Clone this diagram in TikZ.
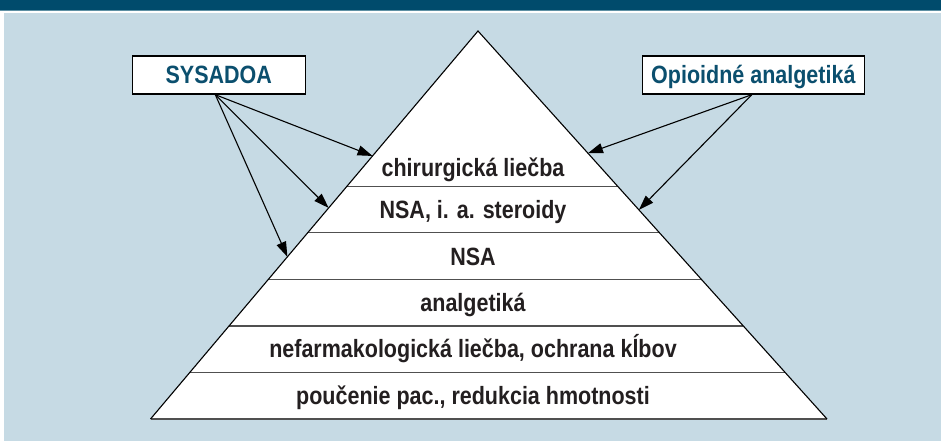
\documentclass[tikz,border=0pt]{standalone}
\usepackage{fontspec}
\setmainfont[FakeStretch=0.86]{Liberation Sans}
\usetikzlibrary{arrows.meta,calc}
\definecolor{bgblue}{HTML}{C6DAE4}
\definecolor{headteal}{HTML}{004B6C}
\definecolor{midteal}{HTML}{5E8FA3}
\definecolor{labtext}{HTML}{0B4F6E}
\definecolor{divgray}{HTML}{505050}
\definecolor{txt}{HTML}{231F20}
\begin{document}
\begin{tikzpicture}[x=1pt,y=-1pt,
  lbl/.style={draw=black,line width=1.4pt,fill=white,minimum height=38pt,inner sep=0pt,
    text height=18pt,text depth=0pt,text=labtext,font=\fontsize{25}{25}\selectfont\bfseries},
  bandtext/.style={text=txt,anchor=base,inner sep=0pt,font=\fontsize{25}{25}\selectfont\bfseries},
  arr/.style={line width=1.1pt,-{Triangle[length=15pt,width=10pt]}},
  divider/.style={divgray,line width=1.3pt},
  ]
\useasboundingbox (0,0) rectangle (941,441);
\fill[white] (0,0) rectangle (941,441);
\fill[bgblue] (4,12.6) rectangle (941,441);
\fill[headteal] (0,0) rectangle (941,10);
\fill[midteal] (0,10) rectangle (941,11.2);
% pyramid
\coordinate (apex) at (478,31);
\coordinate (bl) at (150.5,419);
\coordinate (br) at (827,419);
\fill[white] (apex) -- (bl) -- (br) -- cycle;
\foreach \f in {0.4,0.52,0.64,0.76,0.88}
  \draw[divider] ($(apex)!\f!(bl)$) -- ($(apex)!\f!(br)$);
\draw[divider] (bl) -- (br);
\draw[line width=1.1pt] (bl) -- (apex) -- (br);
% band texts
\node[bandtext] (t1) at (473,176) {chirurgická liečba};
\node[bandtext] (t2) at (473,218.5) {NSA, i. a. steroidy};
\node[bandtext] (t3) at (473,265) {NSA};
\node[bandtext] (t4) at (473,311.5) {analgetiká};
\node[bandtext] (t5) at (473,357.5) {nefarmakologická liečba, ochrana kĺbov};
\node[bandtext] (t6) at (473,404) {poučenie pac., redukcia hmotnosti};
% labels
\node[lbl,minimum width=173pt] (sys) at (218.8,75) {SYSADOA};
\node[lbl,minimum width=222pt] (opi) at (753.3,75) {Opioidné analgetiká};
\coordinate (sysO) at ([xshift=-3.5pt]sys.south);
\coordinate (opiO) at ([xshift=-1.5pt]opi.south);
\coordinate (L1) at ($(apex)!0.322!(bl)$);
\coordinate (L2) at ($(apex)!0.456!(bl)$);
\coordinate (L3) at ($(apex)!0.582!(bl)$);
\coordinate (R1) at ($(apex)!0.315!(br)$);
\coordinate (R2) at ($(apex)!0.461!(br)$);
\draw[arr] (sysO) -- (L1);
\draw[arr] (sysO) -- (L2);
\draw[arr] (sysO) -- (L3);
\draw[arr] (opiO) -- (R1);
\draw[arr] (opiO) -- (R2);
\end{tikzpicture}
\end{document}
